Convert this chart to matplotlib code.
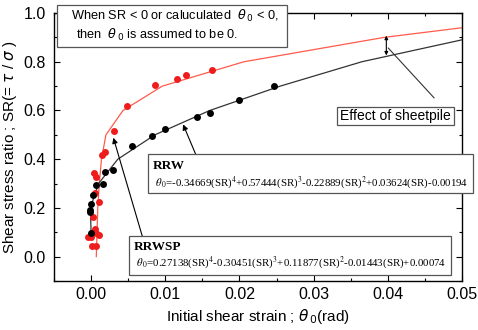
import matplotlib
matplotlib.use("Agg")
import matplotlib.pyplot as plt
from matplotlib.ticker import MultipleLocator
from matplotlib.patches import Rectangle

plt.rcParams['font.family'] = ['Liberation Sans', 'DejaVu Sans']

# RRW (red) measured points
rrw_x = [0.0015, 0.0019, 0.0031, 0.0049, 0.0086, 0.0116, 0.0128, 0.0163,
         0.0004, 0.0007, 0.0005, 0.0010, 0.0002, 0.0005, 0.0007, 0.0010,
         -0.0004, 0.0000, 0.0001, 0.0006]
rrw_y = [0.418, 0.428, 0.517, 0.619, 0.706, 0.730, 0.744, 0.765,
         0.342, 0.325, 0.260, 0.225, 0.163, 0.115, 0.098, 0.088,
         0.080, 0.080, 0.042, 0.042]
# RRWSP (black) measured points
rrwsp_x = [0.0246, 0.0200, 0.0160, 0.0143, 0.0099, 0.0082, 0.0055, 0.0029,
           0.0019, 0.0016, 0.0007, 0.0002, 0.0000, -0.0002, -0.0001, 0.0000]
rrwsp_y = [0.701, 0.643, 0.591, 0.573, 0.524, 0.496, 0.454, 0.354,
           0.346, 0.300, 0.294, 0.251, 0.218, 0.191, 0.184, 0.095]

# fitted curves (theta0 vs SR)
sr_rrw = [0.0, 0.1, 0.2, 0.3, 0.4, 0.5, 0.6, 0.7, 0.8, 0.9, 1.0]
th_rrw = [0.0007, 0.0008, 0.0009, 0.0011, 0.0014, 0.0020, 0.0043, 0.0096, 0.0206, 0.0395, 0.0660]
sr_rrwsp = [0.1, 0.2, 0.3, 0.4, 0.5, 0.6, 0.7, 0.8, 0.9, 1.0]
th_rrwsp = [0.0000, -0.0001, 0.0010, 0.0036, 0.0086, 0.0160, 0.0255, 0.0365, 0.0515, 0.0720]

xticks = [0.00, 0.01, 0.02, 0.03, 0.04, 0.05]
yticks = [0.0, 0.2, 0.4, 0.6, 0.8, 1.0]

W, H = 478, 330
fig = plt.figure(figsize=(W / 100, H / 100), dpi=100)
ax = fig.add_axes([0.113, 0.1485, 0.8535, 0.812])


def fx(px):
    return px / W


def fy(py):
    return 1 - py / H


def box(x0, y0, x1, y1):
    fig.patches.append(Rectangle((fx(x0), fy(y1)), fx(x1) - fx(x0), fy(y0) - fy(y1),
                                 transform=fig.transFigure, fc='white', ec='#555555',
                                 lw=0.9, zorder=5))


ax.plot(th_rrw, sr_rrw, color='#ff5a4a', lw=0.9, zorder=2)
ax.plot(th_rrwsp, sr_rrwsp, color='#333333', lw=0.9, zorder=2)
ax.plot(rrw_x, rrw_y, 'o', color='#ee1c1c', ms=5, mec='none', zorder=3)
ax.plot(rrwsp_x, rrwsp_y, 'o', color='black', ms=5, mec='none', zorder=4)

ax.set_xlim(-0.005, 0.05)
ax.set_ylim(-0.1, 1.0)
ax.set_xticks(xticks)
ax.set_xticklabels(['%.2f' % v for v in xticks])
ax.set_yticks(yticks)
ax.set_yticklabels(['%.1f' % v for v in yticks])
ax.xaxis.set_minor_locator(MultipleLocator(0.005))
ax.yaxis.set_minor_locator(MultipleLocator(0.1))
ax.tick_params(which='both', direction='in', top=True, right=True, labelsize=11.5)
ax.tick_params(which='major', length=4, width=0.8)
ax.tick_params(axis='x', which='major', pad=4)
ax.tick_params(axis='y', which='major', pad=6)
ax.tick_params(which='minor', length=2.5, width=0.8)
for s in ax.spines.values():
    s.set_linewidth(1.0)

ax.set_xlabel(r'Initial shear strain ; $\theta_{\,0}$(rad)', fontsize=11, labelpad=4)
ax.set_ylabel(r'Shear stress ratio ; SR(= $\tau$ / $\sigma$ )', fontsize=11, labelpad=3)

# Top note box
box(57, 5, 287, 47)
fig.text(fx(71), fy(16), r'When SR < 0 or caluculated  $\theta_{\,0}$ < 0,',
         fontsize=9.2, ha='left', va='center', zorder=6)
fig.text(fx(76), fy(35), r'then  $\theta_{\,0}$ is assumed to be 0.',
         fontsize=9.2, ha='left', va='center', zorder=6)

# Effect of sheetpile
box(337, 107, 454, 125)
fig.text(fx(395.5), fy(116), 'Effect of sheetpile', fontsize=10, ha='center',
         va='center', zorder=6)
ax.annotate('', xy=(0.0398, 0.865), xytext=(0.0465, 0.643),
            arrowprops=dict(arrowstyle='-', color='#333333', lw=0.8))
ax.annotate('', xy=(0.0398, 0.907), xytext=(0.0398, 0.826),
            arrowprops=dict(arrowstyle='<|-|>', color='black', lw=0.8,
                            mutation_scale=5, shrinkA=0, shrinkB=0))

eq_rrw = (r'$\theta_{\,0}$=-0.34669(SR)$^4$+0.57444(SR)$^3$-0.22889(SR)$^2$'
          r'+0.03624(SR)-0.00194')
eq_sp = (r'$\theta_{\,0}$=0.27138(SR)$^4$-0.30451(SR)$^3$+0.11877(SR)$^2$'
         r'-0.01443(SR)+0.00074')

# RRW box
box(148, 154, 473, 193)
fig.text(fx(153), fy(166), 'RRW', fontsize=9.5, fontweight='bold',
         family='Liberation Serif', ha='left', va='center', zorder=6)
fig.text(fx(155), fy(183), eq_rrw, fontsize=7.8, family='Liberation Serif',
         math_fontfamily='stix', ha='left', va='center', zorder=6)
ax.annotate('', xy=(0.0124, 0.543), xytext=(0.0141, 0.42),
            arrowprops=dict(arrowstyle='-|>', color='black', lw=0.8,
                            mutation_scale=8, shrinkA=0, shrinkB=0))

# RRWSP box
box(129, 236, 451, 275)
fig.text(fx(134), fy(247), 'RRWSP', fontsize=9.5, fontweight='bold',
         family='Liberation Serif', ha='left', va='center', zorder=6)
fig.text(fx(136), fy(263), eq_sp, fontsize=7.8, family='Liberation Serif',
         math_fontfamily='stix', ha='left', va='center', zorder=6)
ax.annotate('', xy=(0.0030, 0.488), xytext=(0.0069, 0.084),
            arrowprops=dict(arrowstyle='-|>', color='black', lw=0.8,
                            mutation_scale=8, shrinkA=0, shrinkB=0))

fig.savefig('out.png', dpi=100)
